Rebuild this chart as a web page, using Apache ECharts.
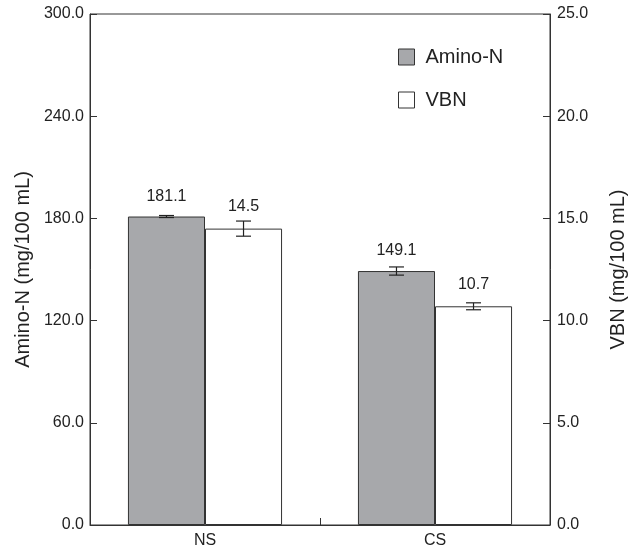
<!DOCTYPE html>
<html>
<head>
<meta charset="utf-8">
<script src="https://cdn.jsdelivr.net/npm/echarts@6/dist/echarts.min.js"></script>
<style>html,body{margin:0;padding:0;background:#fff;}#c{width:636px;height:555px;}</style>
</head>
<body>
<div id="c"></div>
<script>
var categories = ['NS', 'CS'];
var aminoN = [181.1, 149.1];
var aminoNErr = [0.6, 2.4];
var vbn = [14.5, 10.7];
var vbnErr = [0.37, 0.17];
var leftTicks = {min: 0, max: 300, interval: 60};
var rightTicks = {min: 0, max: 25, interval: 5};

var FONT = 'Liberation Sans, Arial, sans-serif';
var chart = echarts.init(document.getElementById('c'));

function errSeries(vals, errs, yIdx, side) {
  return {
    type: 'custom',
    yAxisIndex: yIdx,
    z: 10,
    silent: true,
    data: vals.map(function (v, i) { return [i, v, errs[i]]; }),
    renderItem: function (params, api) {
      var i = api.value(0), v = api.value(1), e = api.value(2);
      var band = api.size([1, 0])[0];
      var bw = band * 0.67 / 2;
      var c = api.coord([i, v]);
      var x = c[0] + side * bw / 2;
      var top = api.coord([i, v + e])[1];
      var bot = api.coord([i, v - e])[1];
      var hw = 7.5;
      var st = {stroke: '#222', lineWidth: 1.2};
      return {type: 'group', children: [
        {type: 'line', shape: {x1: x, y1: top, x2: x, y2: bot}, style: st},
        {type: 'line', shape: {x1: x - hw, y1: top, x2: x + hw, y2: top}, style: st},
        {type: 'line', shape: {x1: x - hw, y1: bot, x2: x + hw, y2: bot}, style: st}
      ]};
    }
  };
}

chart.setOption({
  animation: false,
  backgroundColor: '#fff',
  textStyle: {fontFamily: FONT},
  grid: {left: 90, right: 82, top: 14, bottom: 30, show: true, borderColor: '#333', borderWidth: 1, backgroundColor: 'transparent'},
  legend: {
    orient: 'vertical', left: 393, top: 42, itemWidth: 16, itemHeight: 16, itemGap: 23,
    textStyle: {fontSize: 20, color: '#222', fontFamily: FONT, padding: [0, 0, 0, 6]},
    data: [
      {name: 'Amino-N', icon: 'rect', itemStyle: {color: '#a7a8ab', borderColor: '#333', borderWidth: 1}},
      {name: 'VBN', icon: 'rect', itemStyle: {color: '#fff', borderColor: '#333', borderWidth: 1}}
    ]
  },
  xAxis: {
    type: 'category', data: categories, boundaryGap: true,
    axisLine: {lineStyle: {color: '#333', width: 1}},
    axisTick: {show: true, interval: 0, inside: true, length: 7, lineStyle: {color: '#333'}},
    axisLabel: {fontSize: 16, color: '#222', margin: 8, fontFamily: FONT}
  },
  yAxis: [
    {
      type: 'value', min: leftTicks.min, max: leftTicks.max, interval: leftTicks.interval,
      name: 'Amino-N (mg/100 mL)', nameLocation: 'middle', nameGap: 54, nameRotate: 90,
      nameTextStyle: {fontSize: 20, color: '#222', fontFamily: FONT},
      axisLine: {show: true, lineStyle: {color: '#333', width: 1}},
      axisTick: {show: true, inside: true, length: 7, lineStyle: {color: '#333'}},
      splitLine: {show: false},
      axisLabel: {fontSize: 16, color: '#222', margin: 6, fontFamily: FONT, formatter: function (v) { return v.toFixed(1); }}
    },
    {
      type: 'value', min: rightTicks.min, max: rightTicks.max, interval: rightTicks.interval, position: 'right',
      name: 'VBN (mg/100 mL)', nameLocation: 'middle', nameGap: 58, nameRotate: 90,
      nameTextStyle: {fontSize: 20, color: '#222', fontFamily: FONT},
      axisLine: {show: true, lineStyle: {color: '#333', width: 1}},
      axisTick: {show: true, inside: true, length: 7, lineStyle: {color: '#333'}},
      splitLine: {show: false},
      axisLabel: {fontSize: 16, color: '#222', margin: 7, fontFamily: FONT, formatter: function (v) { return v.toFixed(1); }}
    }
  ],
  series: [
    {
      name: 'Amino-N', type: 'bar', yAxisIndex: 0, data: aminoN,
      barGap: '0%', barCategoryGap: '33%',
      itemStyle: {color: '#a7a8ab', borderColor: '#333', borderWidth: 1},
      label: {show: true, position: 'top', distance: 12, fontSize: 16, color: '#222', fontFamily: FONT,
        formatter: function (p) { return p.value.toFixed(1); }}
    },
    {
      name: 'VBN', type: 'bar', yAxisIndex: 1, data: vbn,
      barGap: '0%', barCategoryGap: '33%',
      itemStyle: {color: '#fff', borderColor: '#333', borderWidth: 1},
      label: {show: true, position: 'top', distance: 14, fontSize: 16, color: '#222', fontFamily: FONT,
        formatter: function (p) { return p.value.toFixed(1); }}
    },
    errSeries(aminoN, aminoNErr, 0, -1),
    errSeries(vbn, vbnErr, 1, 1)
  ]
});
</script>
</body>
</html>
